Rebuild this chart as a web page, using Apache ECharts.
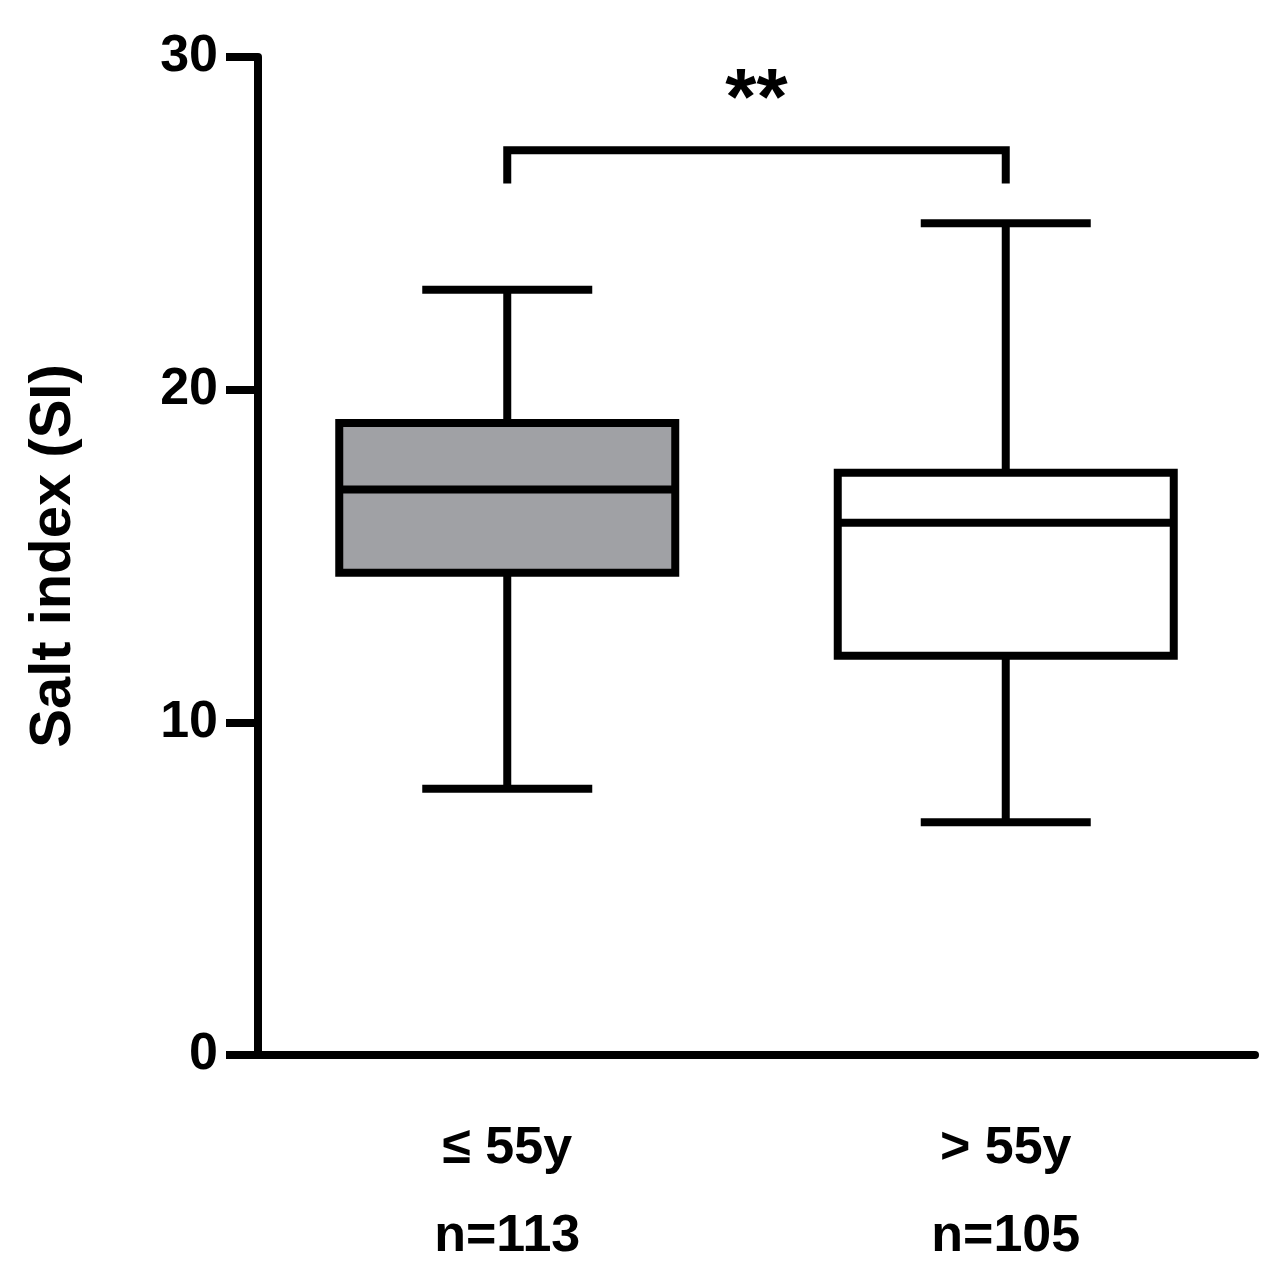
<!DOCTYPE html>
<html><head><meta charset="utf-8">
<script src="https://cdn.jsdelivr.net/npm/echarts@6/dist/echarts.min.js"></script>
<style>html,body{margin:0;padding:0;background:#fff}#c{width:1283px;height:1281px}</style>
</head><body><div id="c"></div>
<script>
const categories = ['≤ 55y\nn=113', '> 55y\nn=105'];
const whiskerLow = [8, 7];
const q1 = [14.5, 12];
const median = [17, 16];
const q3 = [19, 17.5];
const whiskerHigh = [23, 25];
const fills = ['#a0a1a5', '#ffffff'];
const bracket = {from: 0, to: 1, top: 27.2, bottom: 26.2, label: '**'};
const yTicks = [0, 10, 20, 30];

const LW = 8, BOXW = 336, CAPW = 170;
const chart = echarts.init(document.getElementById('c'));
const font = 'Liberation Sans, Arial, sans-serif';
chart.setOption({
  animation: false,
  grid: {left: 258, right: 28, top: 57, bottom: 224},
  xAxis: {type: 'category', data: categories,
    axisLine: {lineStyle: {color: '#000', width: LW}},
    axisTick: {alignWithLabel: true, length: 32, lineStyle: {color: '#000', width: LW}},
    axisLabel: {color: '#000', fontSize: 52, fontWeight: 'bold', fontFamily: font, lineHeight: 88, margin: 50}},
  yAxis: {type: 'value', min: 0, max: 30, interval: 10,
    name: 'Salt index (SI)', nameLocation: 'middle', nameGap: 175,
    nameTextStyle: {color: '#000', fontSize: 58, fontWeight: 'bold', fontFamily: font},
    splitLine: {show: false},
    axisLine: {show: true, lineStyle: {color: '#000', width: LW}},
    axisTick: {show: true, length: 32, lineStyle: {color: '#000', width: LW}},
    axisLabel: {color: '#000', fontSize: 52, fontWeight: 'bold', fontFamily: font, margin: 40,
      formatter: v => yTicks.includes(v) ? String(v) : ''}},
  series: [{
    type: 'custom',
    data: categories.map((c, i) => [i, whiskerLow[i], q1[i], median[i], q3[i], whiskerHigh[i]]),
    encode: {x: 0, y: [1, 2, 3, 4, 5]},
    renderItem: (params, api) => {
      const i = api.value(0);
      const p = k => api.coord([i, api.value(k)]);
      const lo = p(1), a = p(2), m = p(3), b = p(4), hi = p(5);
      const x = lo[0], st = {stroke: '#000', lineWidth: LW, fill: null};
      return {type: 'group', children: [
        {type: 'line', shape: {x1: x, y1: hi[1], x2: x, y2: b[1]}, style: st},
        {type: 'line', shape: {x1: x, y1: lo[1], x2: x, y2: a[1]}, style: st},
        {type: 'line', shape: {x1: x - CAPW/2, y1: hi[1], x2: x + CAPW/2, y2: hi[1]}, style: st},
        {type: 'line', shape: {x1: x - CAPW/2, y1: lo[1], x2: x + CAPW/2, y2: lo[1]}, style: st},
        {type: 'rect', shape: {x: x - BOXW/2, y: b[1], width: BOXW, height: a[1] - b[1]},
          style: {fill: fills[i], stroke: '#000', lineWidth: LW}},
        {type: 'line', shape: {x1: x - BOXW/2, y1: m[1], x2: x + BOXW/2, y2: m[1]}, style: st}
      ]};
    }
  }, {
    type: 'custom',
    data: [[bracket.from, bracket.to, bracket.top, bracket.bottom]],
    renderItem: (params, api) => {
      const a = api.coord([api.value(0), api.value(2)]);
      const b = api.coord([api.value(1), api.value(2)]);
      const yb = api.coord([0, api.value(3)])[1];
      return {type: 'group', children: [
        {type: 'polyline', shape: {points: [[a[0], yb], [a[0], a[1]], [b[0], b[1]], [b[0], yb]]},
          style: {stroke: '#000', lineWidth: LW, fill: null}},
        {type: 'text', style: {text: bracket.label, x: (a[0] + b[0]) / 2, y: a[1] - 8,
          align: 'center', verticalAlign: 'bottom', fontSize: 80, fontWeight: 'bold', fontFamily: font, fill: '#000'}}
      ]};
    }
  }]
});
</script></body></html>
